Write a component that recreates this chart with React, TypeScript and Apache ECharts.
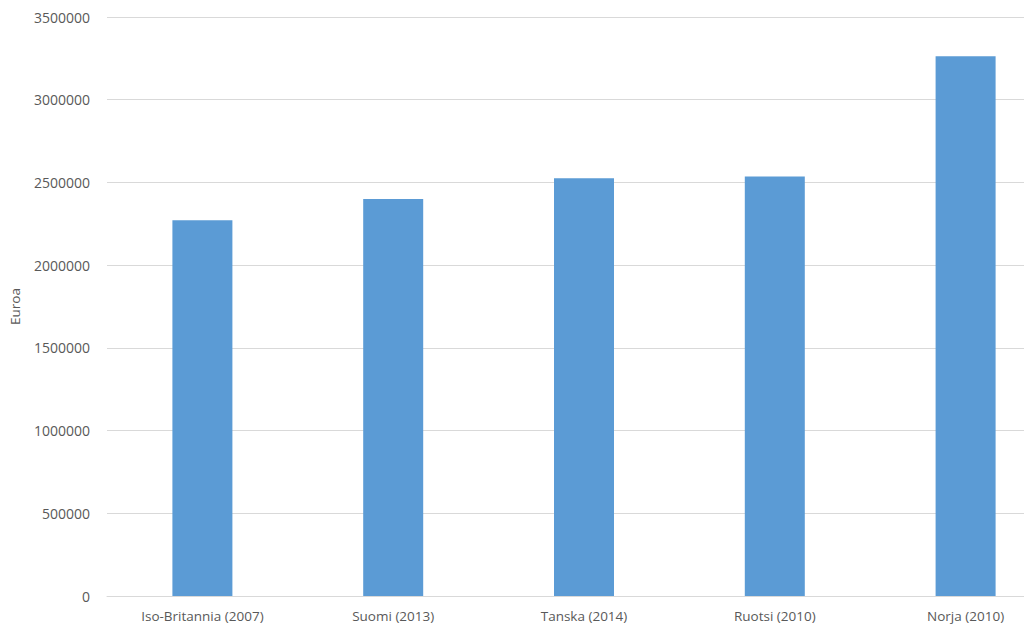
import React, { useEffect, useRef } from "react";
import * as echarts from "echarts";

const categories = [
  "Iso-Britannia (2007)",
  "Suomi (2013)",
  "Tanska (2014)",
  "Ruotsi (2010)",
  "Norja (2010)",
];
const values = [2272000, 2400000, 2526000, 2536000, 3262000];
const yTicks = { min: 0, max: 3500000, interval: 500000 };
const yAxisTitle = "Euroa";

export default function App() {
  const ref = useRef<HTMLDivElement>(null);
  useEffect(() => {
    if (!ref.current) return;
    const chart = echarts.init(ref.current, null, { renderer: "svg" });
    const font = "'Open Sans', 'DejaVu Sans', sans-serif";
    chart.setOption({
      animation: false,
      backgroundColor: "#ffffff",
      grid: { left: 107, right: 0, top: 17, bottom: 40, containLabel: false },
      xAxis: {
        type: "category",
        data: categories,
        axisLine: { show: true, lineStyle: { color: "#d9d9d9", width: 1 } },
        axisTick: { show: false },
        axisLabel: { color: "#595959", fontSize: 13.5, fontFamily: font, margin: 13 },
      },
      yAxis: {
        type: "value",
        min: yTicks.min,
        max: yTicks.max,
        interval: yTicks.interval,
        name: yAxisTitle,
        nameLocation: "middle",
        nameGap: 85,
        nameRotate: 90,
        nameTextStyle: { color: "#595959", fontSize: 13.5, fontFamily: font },
        axisLine: { show: false },
        axisTick: { show: false },
        splitLine: { lineStyle: { color: "#d9d9d9", width: 1 } },
        axisLabel: {
          color: "#595959",
          fontSize: 14,
          fontFamily: font,
          margin: 17,
          formatter: (v: number) => String(v),
        },
      },
      series: [
        {
          type: "bar",
          data: values,
          barWidth: 60,
          itemStyle: { color: "#5b9bd5" },
        },
      ],
    });
    return () => chart.dispose();
  }, []);
  return (
    <div style={{ width: 1024, height: 636, position: "absolute", left: 0, top: 0, overflow: "hidden" }}>
      <div ref={ref} style={{ width: 1061, height: 636 }} />
    </div>
  );
}
